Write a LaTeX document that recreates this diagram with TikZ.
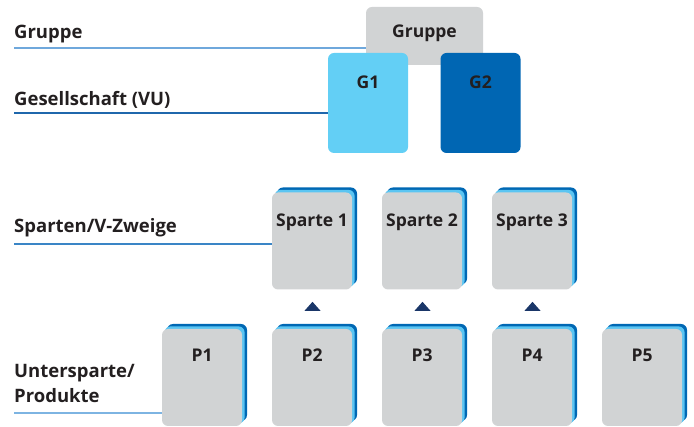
\documentclass[tikz,border=0pt]{standalone}
\usepackage{fontspec}
\setmainfont{Open Sans}
\usetikzlibrary{shadows,calc}
\definecolor{cardgray}{HTML}{D1D3D4}
\definecolor{ltblue}{HTML}{5BC5F2}
\definecolor{dkblue}{HTML}{0068B4}
\definecolor{gone}{HTML}{63CFF5}
\definecolor{gtwo}{HTML}{0066B3}
\definecolor{navy}{HTML}{1A3668}
\definecolor{txt}{HTML}{231F20}
\definecolor{lineA}{HTML}{6FA8DC}
\definecolor{lineB}{HTML}{1F67AC}
\definecolor{lineC}{HTML}{3A85C6}
\definecolor{lineD}{HTML}{7DB4E2}
\tikzset{
  lbl/.style={font=\bfseries\fontsize{18.5}{25}\selectfont, text=txt, anchor=base west, inner sep=0pt},
  boxtext/.style={font=\bfseries\fontsize{17.5}{20}\selectfont, text=txt, anchor=base, inner sep=0pt},
  card/.style={fill=cardgray, draw=none, rounded corners=6pt, minimum width=80pt, minimum height=97pt, inner sep=0pt,
    copy shadow={shadow xshift=5pt, shadow yshift=5pt, fill=dkblue, draw=none},
    copy shadow={shadow xshift=2.6pt, shadow yshift=2.6pt, fill=ltblue, draw=none}},
  gbox/.style={draw=none, rounded corners=6pt, minimum width=80pt, minimum height=100pt, inner sep=0pt},
  rule/.style={line width=1.2pt},
  tri/.style={fill=navy, draw=none}
}
\begin{document}
\begin{tikzpicture}[x=1pt,y=-1pt]
\useasboundingbox (0,0) rectangle (694,427);
% top boxes
\node[fill=cardgray, rounded corners=6pt, minimum width=117pt, minimum height=58pt, inner sep=0pt] (grp) at (424.5,36) {};
\node[boxtext] (grpt) at (424.5,37.5) {Gruppe};
\node[gbox, fill=gone] (g1) at (368,103) {};
\node[gbox, fill=gtwo] (g2) at (480.5,103) {};
\node[boxtext] (g1t) at ($(g1.north)+(0,36)$) {G1};
\node[boxtext] (g2t) at ($(g2.north)+(0,36)$) {G2};
% Sparten
\foreach \n/\x/\t in {s1/312/Sparte 1, s2/422/Sparte 2, s3/532/Sparte 3}{
  \node[card] (\n) at (\x,241) {};
  \node[boxtext] (\n t) at ($(\n.north)+(0,34)$) {\t};
}
% Produkte
\foreach \n/\x/\t in {p1/202/P1, p2/312/P2, p3/422/P3, p4/532/P4, p5/642/P5}{
  \node[card] (\n) at (\x,377.5) {};
  \node[boxtext] (\n t) at ($(\n.north)+(0,33)$) {\t};
}
% triangles
\foreach \p in {p2,p3,p4}{
  \fill[tri] ($(\p.north)+(-7.5,-18)$) -- ($(\p.north)+(8.5,-18)$) -- ($(\p.north)+(0.5,-27)$) -- cycle;
}
% left labels
\node[lbl] (lgr) at (14,38.5) {Gruppe};
\node[lbl] (lge) at (14,106) {Gesellschaft (VU)};
\node[lbl] (lsp) at (14,233) {Sparten/V-Zweige};
\node[lbl] (lu1) at (14,378) {Untersparte/};
\node[lbl] (lu2) at (14,403) {Produkte};
\coordinate (r1) at (14,48);
\coordinate (r2) at (14,113);
\coordinate (r3) at (14,244);
\coordinate (r4) at (14,413);
\draw[rule, lineA] (r1) -- (r1 -| grp.west);
\draw[rule, lineB] (r2) -- (r2 -| g1.west);
\draw[rule, lineC] (r3) -- (r3 -| s1.west);
\draw[rule, lineD] (r4) -- (r4 -| p1.west);
\end{tikzpicture}
\end{document}
